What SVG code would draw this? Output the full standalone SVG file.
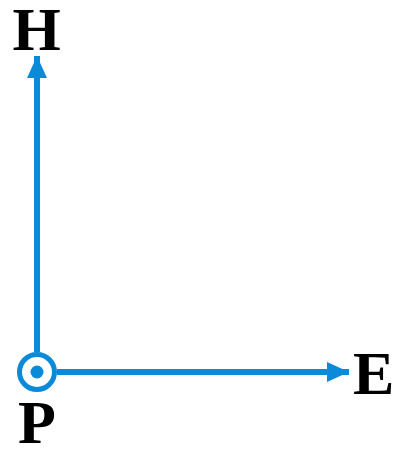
<svg xmlns="http://www.w3.org/2000/svg" width="397" height="450" viewBox="0 0 397 450">
<defs>
<style>
.ln{stroke:#0a8ad9;stroke-width:6;fill:none}
.lbl{font-family:"Liberation Serif","Times New Roman",serif;font-weight:bold;font-size:62px;fill:#000}
</style>
<marker id="ah" markerUnits="userSpaceOnUse" markerWidth="22" markerHeight="22" viewBox="0 0 22 20" refX="22" refY="10" orient="auto">
<path d="M0,0 L22,10 L0,20 Z" fill="#0a8ad9"/>
</marker>
</defs>
<g id="connectors">
<line class="ln" x1="37" y1="352" x2="37" y2="56" marker-end="url(#ah)"/>
<line class="ln" x1="57" y1="372" x2="349" y2="372" marker-end="url(#ah)"/>
</g>
<g id="P">
<circle cx="37" cy="372" r="17.5" fill="#fff" stroke="#0a8ad9" stroke-width="5"/>
<circle cx="37" cy="372" r="6.5" fill="#0a8ad9"/>
<text class="lbl" x="37" y="443" text-anchor="middle">P</text>
</g>
<g id="H">
<text class="lbl" x="36.5" y="50" text-anchor="middle">H</text>
</g>
<g id="E">
<text class="lbl" x="353" y="394">E</text>
</g>
</svg>
